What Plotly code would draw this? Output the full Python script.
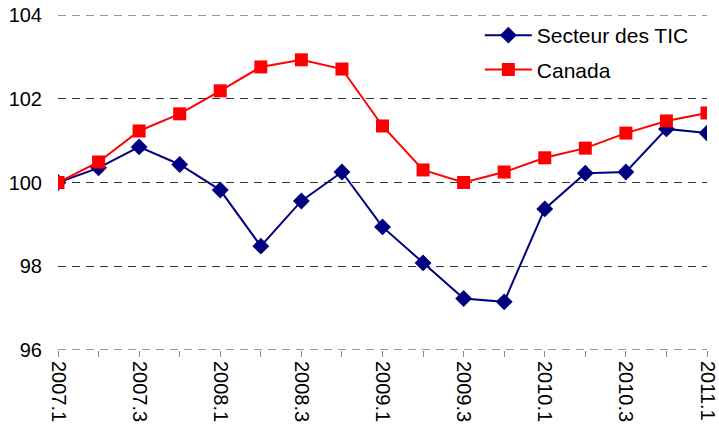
import plotly.graph_objects as go

quarters = ["2007.1", "2007.2", "2007.3", "2007.4", "2008.1", "2008.2", "2008.3", "2008.4",
            "2009.1", "2009.2", "2009.3", "2009.4", "2010.1", "2010.2", "2010.3", "2010.4", "2011.1"]
tic = [100.0, 100.35, 100.85, 100.43, 99.82, 98.48, 99.56, 100.25,
       98.94, 98.08, 97.23, 97.15, 99.37, 100.22, 100.25, 101.28, 101.18]
canada = [100.0, 100.49, 101.23, 101.64, 102.19, 102.76, 102.93, 102.71,
          101.35, 100.30, 100.0, 100.25, 100.59, 100.82, 101.18, 101.47, 101.66]
tick_labels = [q if i % 2 == 0 else "" for i, q in enumerate(quarters)]
y_ticks = [96, 98, 100, 102, 104]

fig = go.Figure()
fig.add_trace(go.Scatter(x=quarters, y=tic, name="Secteur des TIC", mode="lines+markers",
                         legendgroup="a",
                         line=dict(color="#000080", width=2),
                         marker=dict(symbol="diamond", size=13, color="#000080")))
fig.add_trace(go.Scatter(x=quarters, y=canada, name="Canada", mode="lines+markers",
                         legendgroup="b",
                         line=dict(color="#FF0000", width=2),
                         marker=dict(symbol="square", size=13, color="#FF0000")))

# edge gridlines (Plotly omits grid lines at the range ends)
for yv in (y_ticks[0], y_ticks[-1]):
    fig.add_hline(y=yv, line=dict(color="#333333", width=1, dash="8px,6px"), layer="below")

fig.update_layout(
    width=719, height=431,
    margin=dict(l=58, r=12, t=15, b=81),
    paper_bgcolor="white", plot_bgcolor="white",
    font=dict(family="Liberation Sans, Arial, sans-serif", size=20, color="black"),
    showlegend=True,
    legend=dict(x=0.650, y=1.0, xanchor="left", yanchor="top",
                bgcolor="rgba(0,0,0,0)", font=dict(size=21), tracegroupgap=4,
                itemwidth=47),
)
fig.update_xaxes(type="category", range=[0, len(quarters) - 1], automargin=False,
                 tickmode="array", tickvals=quarters, ticktext=tick_labels,
                 tickangle=90, ticks="outside", ticklen=6, tickcolor="#888888",
                 showgrid=False, showline=False, zeroline=False, ticklabeloverflow="allow")
fig.update_yaxes(range=[96, 104], tickvals=y_ticks, showgrid=True, automargin=False,
                 gridcolor="#333333", griddash="8px,6px", gridwidth=1,
                 zeroline=False, showline=False, ticks="", ticklabelstandoff=15,
                 ticklabeloverflow="allow")

fig.write_html("out.html", config={"displayModeBar": False},
               post_script="document.body.style.margin='0';")
